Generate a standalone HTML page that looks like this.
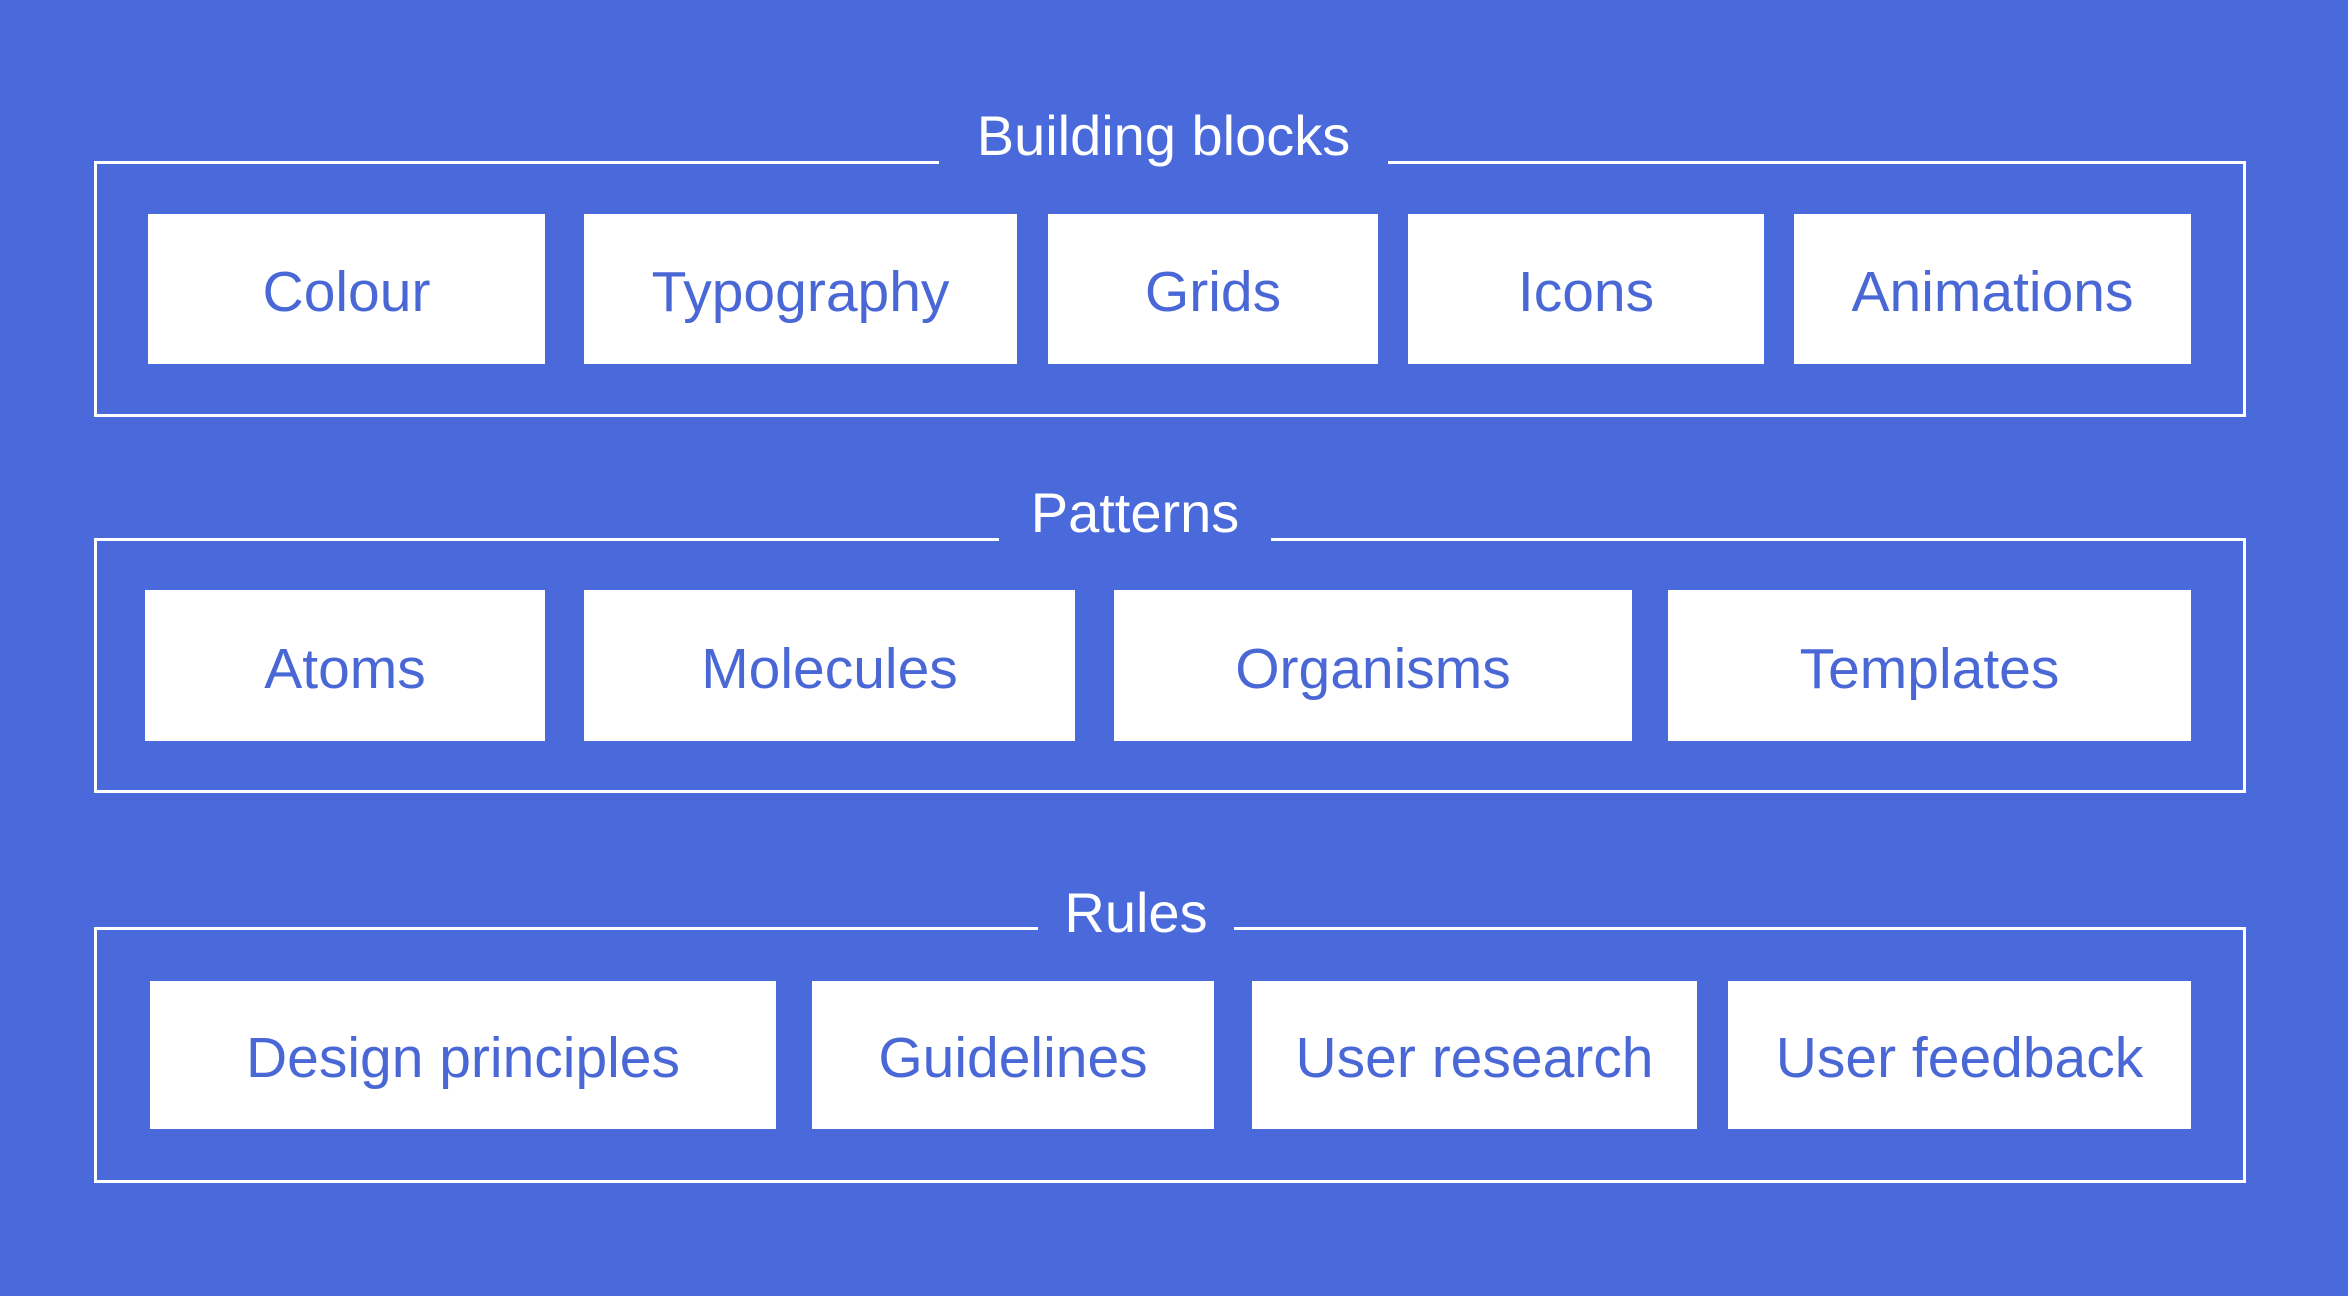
<!DOCTYPE html>
<html><head><meta charset="utf-8"><style>
html,body{margin:0;padding:0}
body{width:2348px;height:1296px;background:#4A69DA;position:relative;overflow:hidden;font-family:"Liberation Sans",sans-serif}
.f{position:absolute;border:3px solid #fff;box-sizing:border-box}
.t{position:absolute;background:#4A69DA;color:#fff;font-size:56px;display:flex;align-items:center;justify-content:center;height:80px}
.b{position:absolute;background:#fff;color:#4A67D6;font-size:57px;display:flex;align-items:center;justify-content:center;padding-top:6px;box-sizing:border-box}
</style></head><body>
<div class="f" style="left:94px;top:161px;width:2152px;height:256px"></div>
<div class="t" style="left:939px;top:95px;width:449px">Building blocks</div>
<div class="b" style="left:148px;top:214px;width:397px;height:150px">Colour</div>
<div class="b" style="left:584px;top:214px;width:433px;height:150px">Typography</div>
<div class="b" style="left:1048px;top:214px;width:330px;height:150px">Grids</div>
<div class="b" style="left:1408px;top:214px;width:356px;height:150px">Icons</div>
<div class="b" style="left:1794px;top:214px;width:397px;height:150px">Animations</div>

<div class="f" style="left:94px;top:538px;width:2152px;height:255px"></div>
<div class="t" style="left:999px;top:472px;width:272px">Patterns</div>
<div class="b" style="left:145px;top:590px;width:400px;height:151px">Atoms</div>
<div class="b" style="left:584px;top:590px;width:491px;height:151px">Molecules</div>
<div class="b" style="left:1114px;top:590px;width:518px;height:151px">Organisms</div>
<div class="b" style="left:1668px;top:590px;width:523px;height:151px">Templates</div>

<div class="f" style="left:94px;top:927px;width:2152px;height:256px"></div>
<div class="t" style="left:1038px;top:872px;width:196px">Rules</div>
<div class="b" style="left:150px;top:981px;width:626px;height:148px">Design principles</div>
<div class="b" style="left:812px;top:981px;width:402px;height:148px">Guidelines</div>
<div class="b" style="left:1252px;top:981px;width:445px;height:148px">User research</div>
<div class="b" style="left:1728px;top:981px;width:463px;height:148px">User feedback</div>
</body></html>
